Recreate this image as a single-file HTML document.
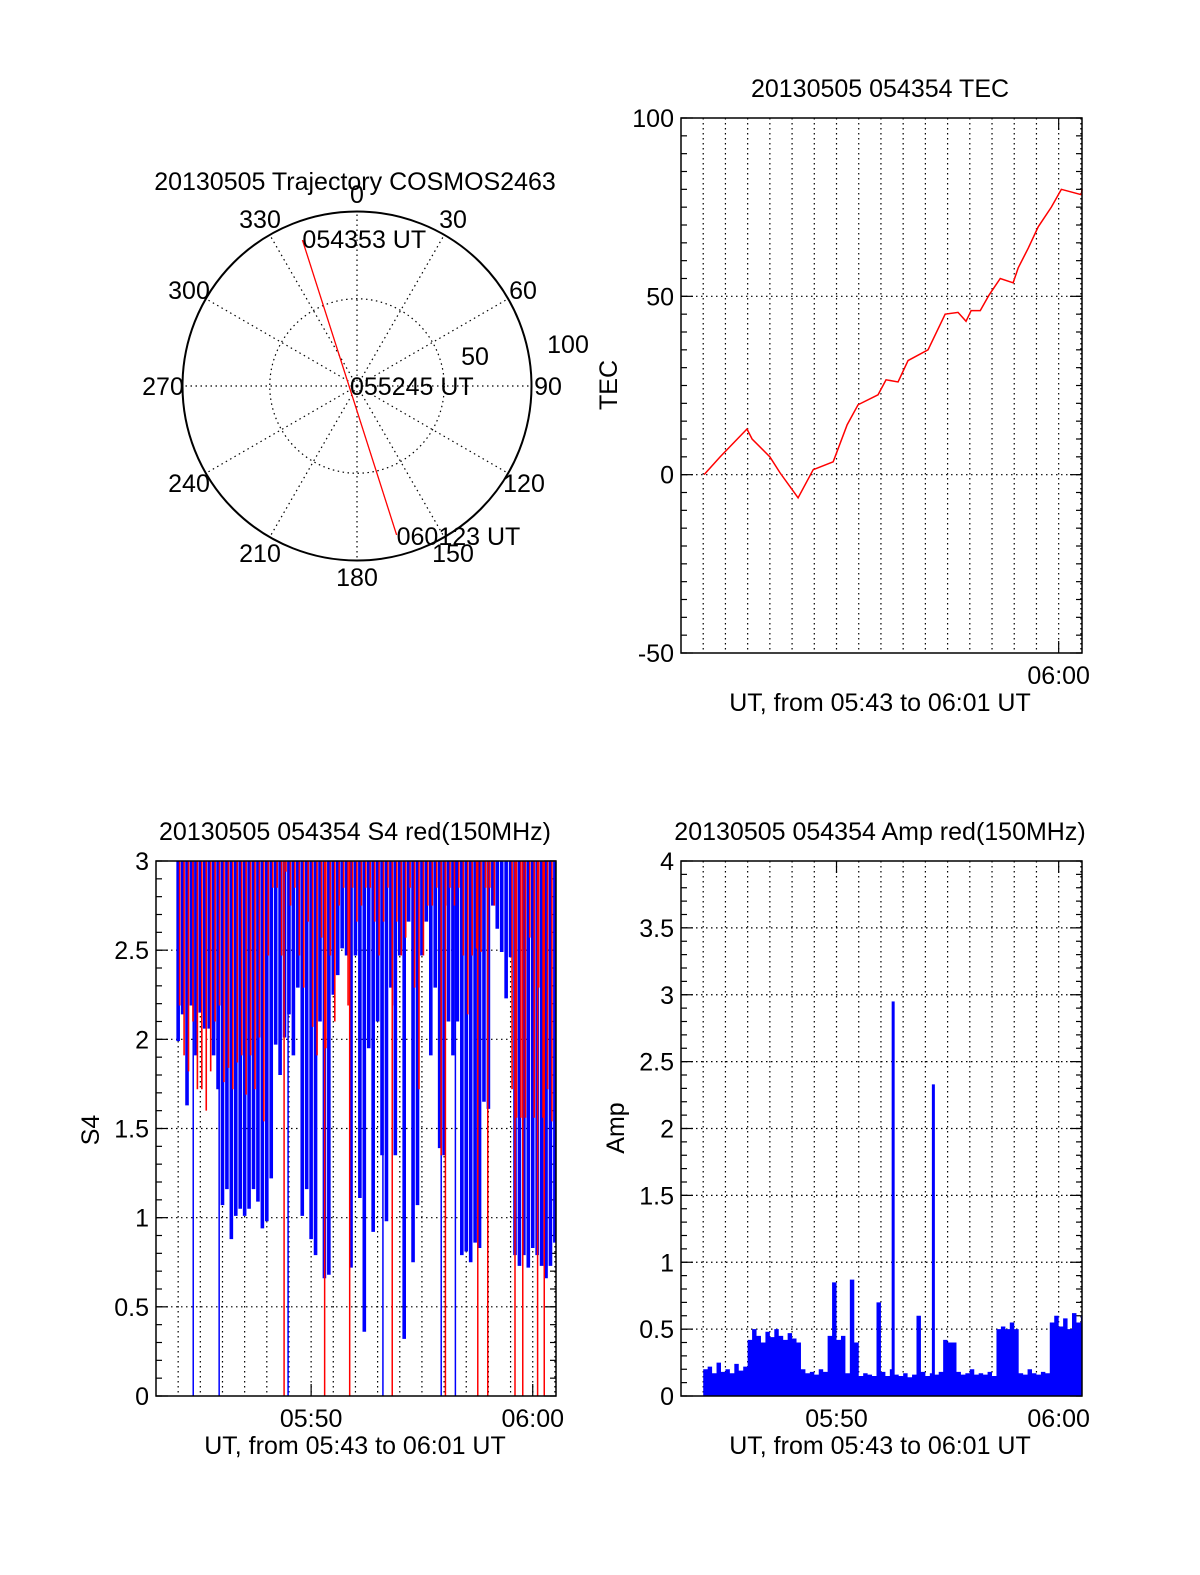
<!DOCTYPE html>
<html><head><meta charset="utf-8"><style>
html,body{margin:0;padding:0;background:#fff;}
svg{display:block;font-family:"Liberation Sans",sans-serif;}
text{font-size:25px;fill:#000;}
</style></head><body>
<svg id="s" width="1200" height="1575" viewBox="0 0 1200 1575" xmlns="http://www.w3.org/2000/svg">
<g id="polar"></g>
<g id="tec"></g>
<g id="s4"></g>
<g id="amp"></g>
</svg>
<script>
// ---------- data ----------
const trajAz = [339.5, 165.1];
const trajZen = [89.3, 88.3];
const trajLabels = ["054353 UT", "055245 UT", "060123 UT"];

const tecMin = [1.04,1.76,2.97,3.2,4.0,4.46,5.27,5.95,6.85,7.48,7.97,8.87,9.23,9.77,10.22,11.12,11.89,12.47,12.83,13.06,13.47,13.87,14.37,14.95,15.18,15.63,16.08,16.67,17.12,18.02,18.05];
const tecVal = [0,5,12.8,10,5,0.5,-6.5,1.4,3.6,14,19.6,22.4,26.6,26,32,35,45,45.5,43,46,46,50.4,55,53.8,58,63.5,69.5,75,80,78.5,80];

const s4Start = 1.0, s4Step = 0.2;
const s4Blue = [1.99,2.14,1.63,2.19,1.91,2.15,2.06,2.06,1.91,1.72,1.07,1.16,0.88,1.01,1.05,1.01,1.05,1.16,1.09,0.94,0.98,1.22,1.97,1.80,2.01,2.14,1.91,2.29,1.01,1.16,0.88,0.79,2.10,0.66,0.68,2.25,2.36,2.51,2.47,0.72,2.47,1.11,0.36,1.95,0.92,2.10,1.35,0.98,2.29,1.35,2.47,0.32,2.66,0.75,1.07,2.47,2.66,1.91,2.29,1.39,1.35,2.10,1.91,2.10,0.79,0.81,0.75,0.86,0.83,1.65,1.61,2.75,2.62,2.49,2.23,2.46,0.79,0.73,0.79,0.72,0.83,0.79,0.73,0.66,0.73,0.86];
const s4Red = [2.19,1.91,1.82,2.10,1.72,1.72,1.60,1.82,2.10,2.19,1.76,1.84,1.72,1.87,1.91,1.69,1.91,1.72,2.01,1.54,2.47,2.85,2.85,2.47,2.94,2.75,2.85,2.47,2.29,2.66,2.07,1.91,2.57,1.95,2.47,2.10,2.75,2.85,2.19,2.85,2.66,2.75,2.85,2.85,2.66,2.47,2.66,2.85,2.19,2.66,2.47,2.57,2.85,2.29,1.72,2.47,2.75,2.75,2.85,1.35,2.75,2.85,2.75,2.85,2.47,2.14,2.47,2.51,2.49,2.85,2.85,2.75,3.0,3.0,3.0,1.72,1.56,1.56,1.56,2.57,1.56,2.29,1.56,1.72,1.54,1.72];
const s4BlueZero = [1.68,2.85,5.96,10.24,12.87,13.51];
const s4RedZero = [5.78,7.61,8.74,10.66,13.06,14.52,14.97,16.2,16.55,17.22,17.52];

const ampStart = 1.0, ampStep = 0.2;
const ampVal = [0.2,0.22,0.17,0.25,0.18,0.2,0.17,0.24,0.19,0.22,0.42,0.5,0.45,0.4,0.48,0.44,0.5,0.45,0.42,0.47,0.43,0.4,0.2,0.17,0.18,0.16,0.2,0.18,0.45,0.85,0.42,0.45,0.17,0.87,0.4,0.15,0.17,0.16,0.15,0.7,0.18,0.15,0.2,0.16,0.15,0.17,0.14,0.16,0.6,0.18,0.15,0.17,0.16,0.18,0.42,0.4,0.4,0.18,0.16,0.17,0.2,0.16,0.17,0.16,0.18,0.15,0.5,0.52,0.5,0.55,0.5,0.17,0.16,0.2,0.17,0.16,0.18,0.17,0.55,0.6,0.52,0.58,0.5,0.62,0.55,0.6];
const ampPeakMin = [9.55, 11.36];
const ampPeakVal = [2.95, 2.33];

const yTicksTec = ["100","50","0","-50"];
const yTicksS4 = ["0","0.5","1","1.5","2","2.5","3"];
const yTicksAmp = ["0","0.5","1","1.5","2","2.5","3","3.5","4"];
const xTickMin = [7, 17];
const xTickLbl = ["05:50", "06:00"];
const xTickMinTec = [17];
const xTickLblTec = ["06:00"];

// ---------- helpers ----------
const NS = "http://www.w3.org/2000/svg";
function mk(tag, attrs, parent){const e=document.createElementNS(NS,tag);for(const k in attrs)e.setAttribute(k,attrs[k]);parent.appendChild(e);return e;}
function txt(s, x, y, anchor, parent){const t=mk("text",{x:x,y:y,"text-anchor":anchor||"middle"},parent);t.textContent=s;return t;}

function panel(g, L, T, R, B, ymin, ymax, yTicks, minorStep, hGrid, xMins, xLbls){
  const sx = m => L + m*(R-L)/18.05;
  const sy = v => B - (v-ymin)*(B-T)/(ymax-ymin);
  for(let m=1;m<=18;m++){
    const l=mk("line",{x1:sx(m),y1:T,x2:sx(m),y2:B,stroke:"#000","stroke-width":1.2,"stroke-dasharray":"1.5,3.5"},g);
    
    
  }
  for(const v of hGrid){
    const l=mk("line",{x1:L,y1:sy(v),x2:R,y2:sy(v),stroke:"#000","stroke-width":1.2,"stroke-dasharray":"1.5,3.5"},g);
    
    
  }
  for(let v=ymin; v<=ymax+1e-9; v+=minorStep){
    mk("line",{x1:L,y1:sy(v),x2:L+6,y2:sy(v),stroke:"#000","stroke-width":1.2},g);
    mk("line",{x1:R,y1:sy(v),x2:R-6,y2:sy(v),stroke:"#000","stroke-width":1.2},g);
  }
  yTicks.forEach((s,i)=>{
    const v = parseFloat(s);
    mk("line",{x1:L,y1:sy(v),x2:L+12,y2:sy(v),stroke:"#000","stroke-width":1.2},g);
    mk("line",{x1:R,y1:sy(v),x2:R-12,y2:sy(v),stroke:"#000","stroke-width":1.2},g);
    const t=txt(s, L-7, sy(v)+9, "end", g);
    
    
  });
  xMins.forEach((m,i)=>{
    mk("line",{x1:sx(m),y1:B,x2:sx(m),y2:B-12,stroke:"#000","stroke-width":1.2},g);
    mk("line",{x1:sx(m),y1:T,x2:sx(m),y2:T+12,stroke:"#000","stroke-width":1.2},g);
    const t=txt(xLbls[i], sx(m), B+31, "middle", g);
    
    
  });
  return {sx, sy};
}
function frame(g,L,T,R,B){
  const r=mk("rect",{x:L,y:T,width:R-L,height:B-T,fill:"none",stroke:"#000","stroke-width":1.5},g);
  
  
}

// ---------- polar ----------
(function(){
  const g=document.getElementById("polar");
  const cx=357, cy=386, R=174.5;
  const t=txt("20130505 Trajectory COSMOS2463",355,190,"middle",g);
  
  
  for(let a=0;a<360;a+=30){
    const r=a*Math.PI/180;
    mk("line",{x1:cx,y1:cy,x2:cx+R*Math.sin(r),y2:cy-R*Math.cos(r),stroke:"#000","stroke-width":1.2,"stroke-dasharray":"1.5,3.5"},g);
  }
  mk("circle",{cx:cx,cy:cy,r:R/2,fill:"none",stroke:"#000","stroke-width":1.2,"stroke-dasharray":"1.5,3.5"},g);
  const c=mk("circle",{cx:cx,cy:cy,r:R,fill:"none",stroke:"#000","stroke-width":2},g);
  
  
  const lab=[["0",357,203],["30",453,228],["60",523,299],["90",548,395],["120",524,492],["150",453,562],["180",357,586],["210",260,562],["240",189,492],["270",163,395],["300",189,299],["330",260,228],["50",475,365],["100",568,353]];
  lab.forEach(l=>{const e=txt(l[0],l[1],l[2],"middle",g);
    
    });
  const pts=trajAz.map((a,i)=>{const r=a*Math.PI/180, d=trajZen[i]/100*R; return [cx+d*Math.sin(r), cy-d*Math.cos(r)];});
  const p=mk("polyline",{points:pts.map(q=>q.join(",")).join(" "),fill:"none",stroke:"#f00","stroke-width":1.3},g);
  
  
  const a1=txt(trajLabels[0],pts[0][0],pts[0][1]+8,"start",g);
  
  
  const a2=txt(trajLabels[1],cx-7,395,"start",g);
  
  
  const a3=txt(trajLabels[2],pts[1][0],pts[1][1]+10,"start",g);
  
  
})();

// ---------- TEC ----------
(function(){
  const g=document.getElementById("tec");
  const L=681,T=118,R=1082,B=653;
  const {sx,sy}=panel(g,L,T,R,B,-50,100,yTicksTec,5,[0,50],xTickMinTec,xTickLblTec);
  const p=mk("polyline",{points:tecMin.map((m,i)=>sx(m)+","+sy(tecVal[i])).join(" "),fill:"none",stroke:"#f00","stroke-width":1.5},g);
  
  
  frame(g,L,T,R,B);
  let t=txt("20130505 054354 TEC",880,97,"middle",g);
   
  t=txt("UT, from 05:43 to 06:01 UT",880,711,"middle",g);
   
  t=txt("TEC",0,0,"middle",g); t.setAttribute("transform","translate(617,385) rotate(-90)");
   
})();

// ---------- S4 ----------
(function(){
  const g=document.getElementById("s4");
  const L=156,T=861,R=556,B=1396;
  const {sx,sy}=panel(g,L,T,R,B,0,3,yTicksS4,0.1,[0.5,1,1.5,2,2.5],xTickMin,xTickLbl);
  const cl=mk("clipPath",{id:"c4"},g); mk("rect",{x:L,y:T,width:R-L,height:B-T},cl);
  const d=mk("g",{"clip-path":"url(#c4)"},g);
  s4Blue.forEach((v,i)=>{const x=sx(s4Start+i*s4Step);
    const l=mk("line",{x1:x,y1:T,x2:x,y2:sy(v),stroke:"#00f","stroke-width":3.6},d);
     });
  s4BlueZero.forEach(m=>{const l=mk("line",{x1:sx(m),y1:T,x2:sx(m),y2:B,stroke:"#00f","stroke-width":1.5},d);
     });
  s4Red.forEach((v,i)=>{const x=sx(s4Start+i*s4Step)+1.5;
    const l=mk("line",{x1:x,y1:T,x2:x,y2:sy(v),stroke:"#f00","stroke-width":1.6},d);
     });
  s4RedZero.forEach(m=>{const l=mk("line",{x1:sx(m),y1:T,x2:sx(m),y2:B,stroke:"#f00","stroke-width":1.5},d);
     });
  frame(g,L,T,R,B);
  let t=txt("20130505 054354 S4 red(150MHz)",355,840,"middle",g);
   
  t=txt("UT, from 05:43 to 06:01 UT",355,1454,"middle",g);
   
  t=txt("S4",0,0,"middle",g); t.setAttribute("transform","translate(99,1130) rotate(-90)");
   
})();

// ---------- Amp ----------
(function(){
  const g=document.getElementById("amp");
  const L=681,T=861,R=1082,B=1396;
  const {sx,sy}=panel(g,L,T,R,B,0,4,yTicksAmp,0.1,[0.5,1,1.5,2,2.5,3,3.5],xTickMin,xTickLbl);
  let pts=[];
  ampVal.forEach((v,i)=>{const x0=sx(ampStart+i*ampStep), x1=Math.min(R,sx(ampStart+(i+1)*ampStep));
    pts.push(x0+","+sy(v)); pts.push(x1+","+sy(v));});
  const x0=sx(ampStart);
  const poly=mk("polygon",{points:x0+","+B+" "+pts.join(" ")+" "+R+","+B,fill:"#00f"},g);
   
  ampPeakMin.forEach((m,i)=>{const r=mk("rect",{x:sx(m)-1.5,y:sy(ampPeakVal[i]),width:3,height:B-sy(ampPeakVal[i]),fill:"#00f"},g);
     });
  frame(g,L,T,R,B);
  let t=txt("20130505 054354 Amp red(150MHz)",880,840,"middle",g);
   
  t=txt("UT, from 05:43 to 06:01 UT",880,1454,"middle",g);
   
  t=txt("Amp",0,0,"middle",g); t.setAttribute("transform","translate(624,1128) rotate(-90)");
   
})();
</script>
</body></html>
